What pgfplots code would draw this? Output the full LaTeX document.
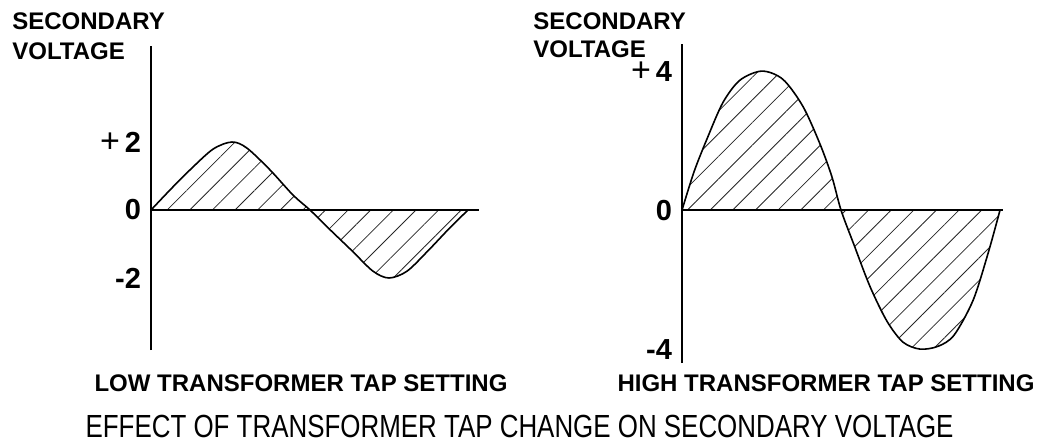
\documentclass[border=0pt]{standalone}
\usepackage{fontspec}
\setmainfont{Liberation Sans}
\newfontfamily\narrowfont[FakeStretch=0.81]{Liberation Sans}
\usepackage{pgfplots}
\pgfplotsset{compat=1.18}
\usetikzlibrary{patterns.meta}

\pgfplotsset{tapaxis/.style={
    scale only axis,
    anchor=south west,
    axis lines*=left,
    x axis line style={draw=none},
    y axis line style={line width=1pt},
    xtick=\empty,
    major tick length=0pt,
    yticklabel style={font=\bfseries\fontsize{14.5}{16}\selectfont, xshift=-1.5pt},
    clip=false,
}}
\tikzset{hatch/.style={smooth, draw=black, line width=0.8pt,
    pattern={Lines[angle=45,distance=8pt,line width=0.4pt]}, pattern color=black!85}}
\newcommand{\plus}{{\mdseries\fontsize{17}{18}\selectfont+}}

\begin{document}
\begin{tikzpicture}
\path[use as bounding box] (0,0) rectangle (521pt,222.5pt);

% low tap setting
\begin{axis}[tapaxis,
    at={(75.5pt,47.5pt)}, width=164pt, height=152pt,
    xmin=0, xmax=328, ymin=-4.118, ymax=4.824,
    ytick={-2,0,2}, yticklabels={-2,0,\plus\,2},
]
\addplot[hatch] coordinates {
    (0,0) (20,0.62) (39,1.18) (62,1.79) (81,2.0) (96,1.82) (119,1.18) (142,0.44) (159,0)
    (178,-0.55) (201,-1.2) (222,-1.8) (238,-2.0) (256,-1.8) (277,-1.2) (298,-0.55) (317,0)
};
\addplot[black, line width=1pt] coordinates {(0,0) (328,0)};
\end{axis}

% high tap setting
\begin{axis}[tapaxis,
    at={(341pt,41pt)}, width=160.5pt, height=159.5pt,
    xmin=0, xmax=321, ymin=-4.4, ymax=4.78,
    ytick={-4,0,4}, yticklabels={-4,0,\plus\,4},
]
\addplot[hatch] coordinates {
    (0,0) (12,1.1) (25,2.05) (41,3.1) (58,3.74) (80,4.0) (101,3.76) (121,2.98) (138,1.9) (150,0.95) (159,0)
    (172,-1.0) (188,-2.2) (205,-3.2) (221,-3.8) (238,-4.0) (256,-3.92) (272,-3.6) (291,-2.6) (306,-1.25) (318,0)
};
\addplot[black, line width=1pt] coordinates {(0,0) (321,0)};
\end{axis}

\begin{scope}[every node/.style={font=\bfseries\fontsize{12}{14}\selectfont, inner sep=0pt}]
\node[anchor=base west] at (6pt,207.5pt) {SECONDARY};
\node[anchor=base west] at (6pt,192.5pt) {VOLTAGE};
\node[anchor=base west] at (266.5pt,207.5pt) {SECONDARY};
\node[anchor=base west] at (266.5pt,193.5pt) {VOLTAGE};
\node[anchor=base] at (150.5pt,27pt) {LOW TRANSFORMER TAP SETTING};
\node[anchor=base] at (413pt,27pt) {HIGH TRANSFORMER TAP SETTING};
\end{scope}
\node[anchor=base, inner sep=0pt, font=\narrowfont\fontsize{16}{18}\selectfont]
    at (259.75pt,4pt) {EFFECT OF TRANSFORMER TAP CHANGE ON SECONDARY VOLTAGE};
\end{tikzpicture}
\end{document}
